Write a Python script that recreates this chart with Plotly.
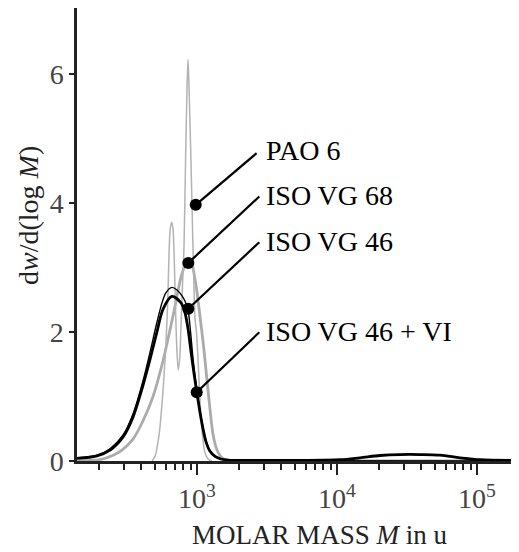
import numpy as np
import plotly.graph_objects as go

# ---- data (log10 of molar mass M in u, and dw/d(log M)) ----
pao6_logM = [2.679, 2.700, 2.718, 2.732, 2.743, 2.761, 2.779, 2.793, 2.800, 2.809, 2.819,
             2.829, 2.836, 2.845, 2.855, 2.866, 2.877, 2.886, 2.896, 2.907, 2.918, 2.929,
             2.936, 2.943, 2.954, 2.964, 2.975, 2.986, 2.996, 3.007, 3.018, 3.029, 3.043,
             3.057, 3.079, 3.107]
pao6_w = [0.0, 0.07, 0.25, 0.45, 0.70, 1.20, 1.85, 2.60, 3.20, 3.60, 3.70,
          3.60, 3.25, 2.50, 1.80, 1.41, 1.60, 2.10, 2.70, 3.30, 4.60, 5.80,
          6.22, 5.80, 4.90, 4.00, 3.00, 2.20, 2.00, 1.60, 1.10, 0.65, 0.32,
          0.13, 0.03, 0.0]

vg68_logM = [2.143, 2.307, 2.393, 2.464, 2.543, 2.614, 2.686, 2.757, 2.829, 2.886, 2.921,
             2.943, 2.964, 2.993, 3.021, 3.050, 3.071, 3.093, 3.114, 3.143, 3.179, 3.236,
             3.343, 5.300]
vg68_w = [0.0, 0.02, 0.08, 0.17, 0.34, 0.62, 1.00, 1.55, 2.25, 2.85, 3.07,
          3.12, 3.05, 2.72, 2.25, 1.72, 1.26, 0.80, 0.42, 0.17, 0.05, 0.01,
          0.0, 0.0]

vg46_logM = [2.143, 2.286, 2.379, 2.471, 2.543, 2.614, 2.664, 2.714, 2.750, 2.779, 2.821,
             2.857, 2.893, 2.914, 2.936, 2.954, 2.971, 2.993, 3.014, 3.043, 3.064,
             3.093, 3.129, 3.164, 3.221, 3.379, 5.300]
vg46_w = [0.05, 0.09, 0.19, 0.40, 0.73, 1.24, 1.68, 2.15, 2.45, 2.61, 2.69,
          2.65, 2.56, 2.48, 2.34, 2.00, 1.60, 1.20, 0.88, 0.52, 0.32,
          0.16, 0.07, 0.035, 0.015, 0.005, 0.0]

vg46vi_logM = [2.143, 2.286, 2.379, 2.471, 2.543, 2.614, 2.664, 2.714, 2.757, 2.821, 2.886,
               2.914, 2.936, 2.957, 2.979, 3.000, 3.021, 3.043, 3.064, 3.093, 3.129,
               3.164, 3.221, 3.379, 3.736, 4.021, 4.164, 4.307, 4.450, 4.593, 4.736,
               4.879, 5.021, 5.300]
vg46vi_w = [0.04, 0.08, 0.17, 0.37, 0.68, 1.17, 1.57, 2.00, 2.35, 2.55, 2.45,
            2.30, 2.05, 1.70, 1.35, 1.05, 0.76, 0.50, 0.30, 0.15, 0.07,
            0.035, 0.015, 0.01, 0.01, 0.02, 0.05, 0.085, 0.10, 0.10, 0.09,
            0.05, 0.02, 0.01]

labels = ["PAO 6", "ISO VG 68", "ISO VG 46", "ISO VG 46 + VI"]
marker_logM = [2.991, 2.938, 2.938, 2.998]
marker_w = [3.97, 3.07, 2.36, 1.065]

x_major = [1e3, 1e4, 1e5]
x_major_text = ["10<sup>3</sup>", "10<sup>4</sup>", "10<sup>5</sup>"]
x_minor = [m * 10 ** e for e in (2, 3, 4) for m in range(2, 10)] + [2e5]
y_ticks = [0, 2, 4, 6]

# ---- layout helpers (label geometry) ----
leader_end_logM = [3.426, 3.445, 3.445, 3.445]
leader_end_w = [4.77, 4.10, 3.39, 1.995]
text_logM = 3.479
text_w = [4.81, 4.11, 3.40, 2.005]

FONT = "Liberation Serif"
GRAY = "#ababab"

def M(v):
    return list(10 ** np.array(v))

fig = go.Figure()
fig.add_trace(go.Scatter(x=M(vg68_logM), y=vg68_w, mode="lines",
                         line=dict(color=GRAY, width=2.8, shape="spline", smoothing=0.8)))
fig.add_trace(go.Scatter(x=M(pao6_logM), y=pao6_w, mode="lines",
                         line=dict(color="#b3b3b3", width=1.5, shape="spline", smoothing=0.8)))
fig.add_trace(go.Scatter(x=M(vg46_logM), y=vg46_w, mode="lines",
                         line=dict(color="black", width=1.4, shape="spline", smoothing=0.9)))
fig.add_trace(go.Scatter(x=M(vg46vi_logM), y=vg46vi_w, mode="lines",
                         line=dict(color="black", width=2.8, shape="spline", smoothing=0.9)))

for i in range(len(labels)):
    fig.add_trace(go.Scatter(x=M([marker_logM[i], leader_end_logM[i]]),
                             y=[marker_w[i], leader_end_w[i]], mode="lines",
                             line=dict(color="black", width=2.2)))
fig.add_trace(go.Scatter(x=M(marker_logM), y=marker_w, mode="markers",
                         marker=dict(color="black", size=12, line=dict(width=0))))

for i, lab in enumerate(labels):
    fig.add_annotation(x=text_logM, y=text_w[i], text=lab, showarrow=False,
                       xanchor="left", yanchor="middle",
                       font=dict(family=FONT, size=28, color="black"))

fig.add_annotation(xref="paper", yref="paper", x=0.55, y=-0.2009,
                   text="MOLAR MASS <i>M</i> in u", showarrow=False,
                   xanchor="center", yanchor="bottom",
                   font=dict(family=FONT, size=27, color="#222"))
fig.add_annotation(xref="paper", yref="paper", x=-0.111, y=0.543,
                   text="d<i>w</i>/d(log <i>M</i>)", showarrow=False, textangle=-90,
                   xanchor="center", yanchor="middle",
                   font=dict(family=FONT, size=28, color="#222"))

fig.update_layout(
    width=511, height=544,
    margin=dict(l=69, r=0, t=0, b=91),
    paper_bgcolor="white", plot_bgcolor="white",
    showlegend=False,
    xaxis=dict(type="log", range=[2.143, 5.30], showgrid=False, zeroline=False,
               showline=True, linecolor="#222", linewidth=2.5,
               tickmode="array", tickvals=x_major, ticktext=x_major_text,
               ticks="outside", ticklen=11, tickwidth=2, tickcolor="#222",
               tickfont=dict(family=FONT, size=28, color="#444"),
               minor=dict(tickmode="array", tickvals=x_minor, ticks="outside",
                          ticklen=6, tickwidth=2, tickcolor="#222", showgrid=False)),
    yaxis=dict(range=[0, 7.02], showgrid=False, zeroline=False,
               showline=True, linecolor="#222", linewidth=2.5,
               tickmode="array", tickvals=y_ticks,
               ticks="outside", ticklen=5, tickwidth=2, tickcolor="#222",
               tickfont=dict(family=FONT, size=28, color="#444")),
)

fig.write_html("out.html")
